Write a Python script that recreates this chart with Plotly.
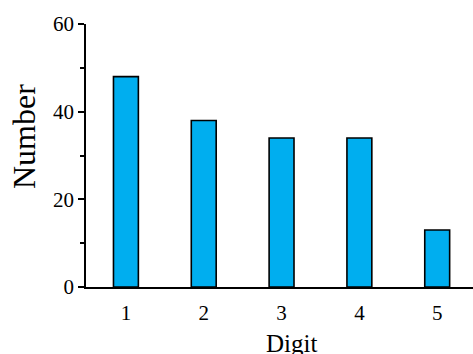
import plotly.graph_objects as go

digits = ["1", "2", "3", "4", "5"]
counts = [48, 38, 34, 34, 13]
y_ticks = [0, 20, 40, 60]

W, H = 473, 354
L, R, T, B = 86, 0, 24, 67

fig = go.Figure()
fig.add_trace(go.Bar(
    x=[1, 2, 3, 4, 5], y=counts, width=0.32,
    marker=dict(color="rgb(0,174,239)", line=dict(color="black", width=1.6)),
))

font = "Liberation Serif, Times New Roman, serif"
fig.update_layout(
    width=W, height=H, margin=dict(l=L, r=R, t=T, b=B),
    plot_bgcolor="white", paper_bgcolor="white",
    showlegend=False,
    font=dict(family=font, color="black", size=20),
    xaxis=dict(range=[0.487, 5.46], tickvals=[1, 2, 3, 4, 5], ticktext=digits,
               showline=True, linecolor="black", linewidth=1.5, showgrid=False,
               zeroline=False, ticks="", ticklabelstandoff=6,
               tickfont=dict(size=21)),
    yaxis=dict(range=[0, 60], tickvals=y_ticks, showline=True, linecolor="black",
               linewidth=1.5, showgrid=False, zeroline=False, ticks="outside",
               ticklen=6, tickwidth=1.5, tickcolor="black", tickfont=dict(size=21),
               minor=dict(tickvals=[10, 30, 50], ticks="outside", ticklen=4,
                          tickwidth=1.5, tickcolor="black")),
    annotations=[
        dict(text="Digit", xref="paper", yref="paper", x=0.53, y=0,
             yshift=-41, xanchor="center", yanchor="top", showarrow=False,
             font=dict(size=25)),
        dict(text="Number", xref="paper", yref="paper", x=0, y=(287 - 137) / 263,
             xshift=-62, xanchor="center", yanchor="middle", showarrow=False,
             textangle=-90, font=dict(size=32)),
    ],
)
fig.write_html("out.html", config={"displayModeBar": False},
               post_script="document.body.style.margin='0';document.body.style.overflow='hidden';")
